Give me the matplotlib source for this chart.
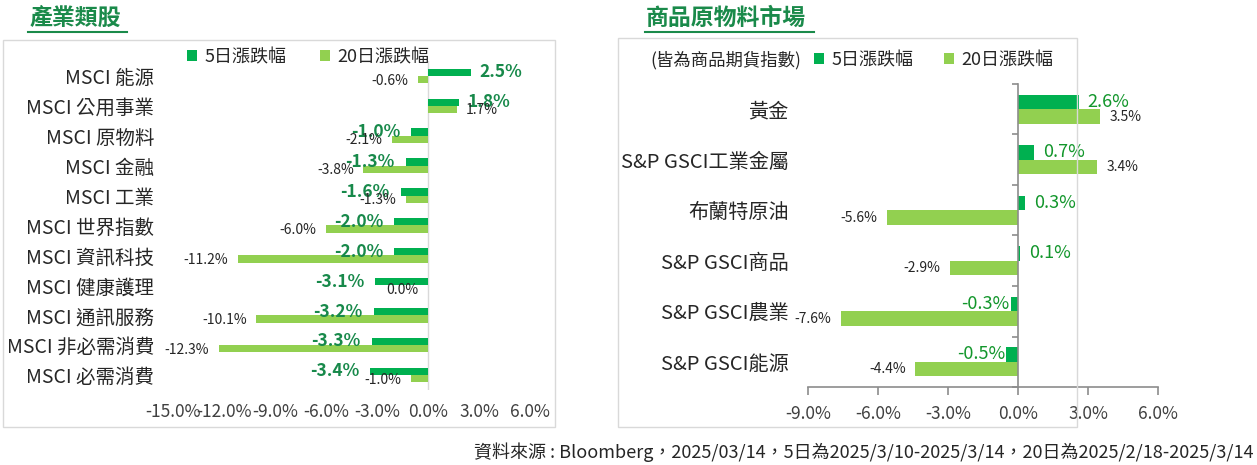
import matplotlib
matplotlib.use('Agg')
import matplotlib.pyplot as plt
import numpy as np
from matplotlib.patches import Rectangle
from matplotlib.lines import Line2D

plt.rcParams['font.family'] = ['Noto Sans CJK TC', 'DejaVu Sans']

W, H = 1257, 465

# --- data ---
sector_names = ['MSCI 能源', 'MSCI 公用事業', 'MSCI 原物料', 'MSCI 金融', 'MSCI 工業',
                'MSCI 世界指數', 'MSCI 資訊科技', 'MSCI 健康護理', 'MSCI 通訊服務',
                'MSCI 非必需消費', 'MSCI 必需消費']
sector_5d = [2.5, 1.8, -1.0, -1.3, -1.6, -2.0, -2.0, -3.1, -3.2, -3.3, -3.4]
sector_20d = [-0.6, 1.7, -2.1, -3.8, -1.3, -6.0, -11.2, 0.0, -10.1, -12.3, -1.0]
sector_ticks = [-15, -12, -9, -6, -3, 0, 3, 6]

commod_names = ['黃金', 'S&P GSCI工業金屬', '布蘭特原油', 'S&P GSCI商品', 'S&P GSCI農業', 'S&P GSCI能源']
commod_5d = [2.6, 0.7, 0.3, 0.1, -0.3, -0.5]
commod_20d = [3.5, 3.4, -5.6, -2.9, -7.6, -4.4]
commod_ticks = [-9, -6, -3, 0, 3, 6]

series_names = ['5日漲跌幅', '20日漲跌幅']
c5 = '#00b050'
c20 = '#92d050'
title_green = '#1a8a4a'
source = '資料來源 : Bloomberg，2025/03/14，5日為2025/3/10-2025/3/14，20日為2025/2/18-2025/3/14'


def rect(x0, y0, x1, y1):
    # pixel box (top-left origin) -> figure fraction
    return [x0 / W, 1 - y1 / H, (x1 - x0) / W, (y1 - y0) / H]


def pct(v):
    return f'{v:.1f}%'


fig = plt.figure(figsize=(W / 100, H / 100), dpi=100)

# frames and titles
for (x0, y0, x1, y1) in [(3, 40, 555, 427), (618, 38, 1077, 427)]:
    fig.patches.append(Rectangle((x0 / W, 1 - y1 / H), (x1 - x0) / W, (y1 - y0) / H,
                                 transform=fig.transFigure, fill=False,
                                 edgecolor='#d9d9d9', lw=1))
fig.text(30 / W, 1 - 18 / H, '產業類股', fontsize=16.5, fontweight='bold',
         color=title_green, va='center', ha='left')
fig.text(646 / W, 1 - 18 / H, '商品原物料市場', fontsize=16.5, fontweight='bold',
         color=title_green, va='center', ha='left')
fig.lines.append(Line2D([28 / W, 127 / W], [1 - 32 / H] * 2, transform=fig.transFigure,
                        color=title_green, lw=1.5))
fig.lines.append(Line2D([645 / W, 814 / W], [1 - 32 / H] * 2, transform=fig.transFigure,
                        color=title_green, lw=1.5))

# ---------------- left: sectors ----------------
ax1 = fig.add_axes(rect(173, 61, 530, 390))
n1 = len(sector_names)
y1 = np.arange(n1)
bh1 = 0.245
b5 = ax1.barh(y1 - bh1 / 2, sector_5d, height=bh1, color=c5, label=series_names[0])
b20 = ax1.barh(y1 + bh1 / 2, sector_20d, height=bh1, color=c20, label=series_names[1])
ax1.axvline(0, color='#d9d9d9', lw=1, zorder=0)
ax1.set_xlim(-15, 6)
ax1.set_ylim(n1 - 0.5, -0.5)
ax1.set_xticks(sector_ticks)
ax1.set_xticklabels([pct(t) for t in sector_ticks], fontsize=12.5, color='#404040')
ax1.set_yticks(y1)
ax1.set_yticklabels(sector_names, fontsize=14, fontweight='medium', color='#262626')
ax1.tick_params(axis='x', length=0, pad=9)
ax1.tick_params(axis='y', length=0, pad=13.5)
for s in ax1.spines.values():
    s.set_visible(False)

for i, (v5, v20) in enumerate(zip(sector_5d, sector_20d)):
    off = 6.5 if v5 > 0 else -8
    ax1.annotate(pct(v5), (v5, i - bh1 / 2), xytext=(off, 0), textcoords='offset points',
                 ha='left' if v5 > 0 else 'right', va='center', fontsize=12.5,
                 fontweight='bold', color='#17894a')
    off = 6.5 if v20 > 0 else -7
    ax1.annotate(pct(v20), (v20, i + bh1 / 2 + 0.03), xytext=(off, 0), textcoords='offset points',
                 ha='left' if v20 > 0 else 'right', va='center', fontsize=10,
                 color='#262626')

ax1.legend(handles=[b5, b20], ncol=2, frameon=False, fontsize=13,
           loc='center left', bbox_to_anchor=(187 / W, 1 - 57 / H),
           bbox_transform=fig.transFigure, handlelength=0.55, handleheight=0.55,
           handletextpad=0.4, columnspacing=1.9, borderpad=0, borderaxespad=0,
           labelcolor='#262626')

# ---------------- right: commodities ----------------
ax2 = fig.add_axes(rect(808, 84, 1158, 387))
n2 = len(commod_names)
y2 = np.arange(n2)
bh2 = 0.29
r5 = ax2.barh(y2 - bh2 / 2, commod_5d, height=bh2, color=c5, label=series_names[0])
r20 = ax2.barh(y2 + bh2 / 2, commod_20d, height=bh2, color=c20, label=series_names[1])
ax2.set_xlim(-9, 6)
ax2.set_ylim(n2 - 0.5, -0.5)
ax2.spines['left'].set_position(('data', 0))
for k in ['top', 'right']:
    ax2.spines[k].set_visible(False)
for k in ['left', 'bottom']:
    ax2.spines[k].set_color('#8c8c8c')
    ax2.spines[k].set_linewidth(1.2)
ax2.set_xticks(commod_ticks)
ax2.set_xticklabels([pct(t) for t in commod_ticks], fontsize=12.5, color='#404040')
ax2.tick_params(axis='x', length=6, width=1.2, color='#8c8c8c', pad=7)
ax2.set_yticks(y2)
ax2.set_yticklabels(commod_names, fontsize=14.5, fontweight='medium', color='#262626')
ax2.set_yticks(np.arange(-0.5, n2), minor=True)
ax2.tick_params(axis='y', which='major', length=0, pad=165)
ax2.tick_params(axis='y', which='minor', length=4, width=1.2, color='#8c8c8c')

for i, (v5, v20) in enumerate(zip(commod_5d, commod_20d)):
    off = 6.5 if v5 > 0 else -1
    ax2.annotate(pct(v5), (v5, i - bh2 / 2), xytext=(off, 0), textcoords='offset points',
                 ha='left' if v5 > 0 else 'right', va='center', fontsize=13,
                 fontweight='medium', color='#12962b')
    off = 7 if v20 > 0 else -7
    ax2.annotate(pct(v20), (v20, i + bh2 / 2), xytext=(off, 0), textcoords='offset points',
                 ha='left' if v20 > 0 else 'right', va='center', fontsize=10,
                 color='#262626')

fig.text(650 / W, 1 - 60 / H, '(皆為商品期貨指數)', fontsize=12.5, color='#262626',
         va='center', ha='left')
ax2.legend(handles=[r5, r20], ncol=2, frameon=False, fontsize=13,
           loc='center left', bbox_to_anchor=(814 / W, 1 - 60 / H),
           bbox_transform=fig.transFigure, handlelength=0.55, handleheight=0.55,
           handletextpad=0.4, columnspacing=1.7, borderpad=0, borderaxespad=0,
           labelcolor='#262626')

fig.text(1253 / W, 1 - 452 / H, source, fontsize=13, color='#262626',
         ha='right', va='center')

fig.savefig('out.png', dpi=100)
